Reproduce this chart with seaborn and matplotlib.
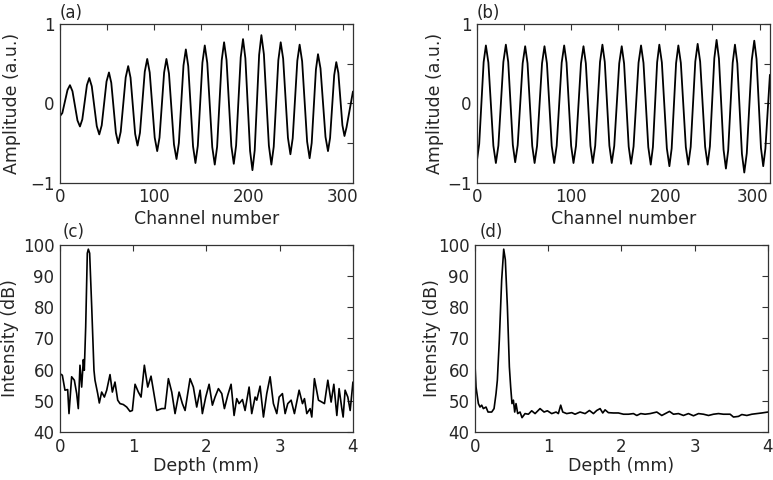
import matplotlib
matplotlib.use("Agg")
import matplotlib.pyplot as plt
import matplotlib.transforms as mtransforms
import seaborn as sns

# (a) raw channel signal: extrema and shoulders
channel_a = [0, 2.5, 8.0,
             10.6, 13.25, 18.55, 21.2, 23.7, 28.6, 31.1, 33.75, 39.05,
             41.7, 44.3, 49.4, 52.0, 54.45, 59.35, 61.8, 64.45, 69.75,
             72.4, 74.9, 79.8, 82.3, 84.9, 90.0, 92.6, 95.25, 100.55,
             103.2, 105.65, 110.55, 113.0, 115.7, 121.0, 123.7, 126.2, 131.1,
             133.6, 136.15, 141.25, 143.8, 146.3, 151.2, 153.7, 156.35, 161.65,
             164.3, 166.8, 171.7, 174.2, 176.8, 181.9, 184.5, 186.95, 191.85,
             194.3, 196.8, 201.8, 204.3, 206.7, 211.4, 213.8, 216.45, 221.75,
             224.4, 226.9, 231.8, 234.3, 236.9, 242.0, 244.6, 247.05, 251.95,
             254.4, 257.05, 262.35, 265.0, 267.2, 271.7, 273.9, 276.55, 281.85,
             284.5, 286.7, 291.1, 293.3, 295.5, 299.8, 302.0, 304.2, 311]
amp_a = [-0.16, -0.12, 0.17,
         0.23, 0.154, -0.214, -0.29, -0.201, 0.231, 0.32, 0.216, -0.286,
         -0.39, -0.276, 0.276, 0.39, 0.26, -0.37, -0.50, -0.358, 0.328,
         0.47, 0.324, -0.384, -0.53, -0.37, 0.40, 0.56, 0.39, -0.43,
         -0.60, -0.43, 0.39, 0.56, 0.376, -0.516, -0.70, -0.498, 0.478,
         0.68, 0.471, -0.541, -0.75, -0.533, 0.513, 0.73, 0.51, -0.55,
         -0.77, -0.545, 0.545, 0.77, 0.546, -0.536, -0.76, -0.53, 0.58,
         0.81, 0.568, -0.598, -0.84, -0.591, 0.611, 0.86, 0.621, -0.531,
         -0.77, -0.545, 0.545, 0.77, 0.564, -0.434, -0.64, -0.438, 0.538,
         0.74, 0.531, -0.481, -0.69, -0.498, 0.428, 0.62, 0.441, -0.421,
         -0.60, -0.436, 0.356, 0.52, 0.384, -0.274, -0.41, -0.30, 0.15]

# (b) corrected channel signal
channel_b = [0, 2.4, 7.1,
             9.5, 12.15, 17.45, 20.1, 22.75, 28.05, 30.7, 33.2, 38.1,
             40.6, 43.25, 48.55, 51.2, 53.7, 58.7, 61.2, 63.8, 69.1,
             71.7, 74.3, 79.4, 82.0, 84.65, 89.95, 92.6, 95.1, 100.0,
             102.5, 105.15, 110.45, 113.1, 115.6, 120.5, 123.0, 125.55, 130.65,
             133.2, 135.7, 140.6, 143.1, 145.75, 151.05, 153.7, 156.2, 161.1,
             163.6, 166.25, 171.55, 174.2, 176.8, 181.9, 184.5, 186.8, 191.3,
             193.6, 196.3, 201.6, 204.3, 206.7, 211.4, 213.8, 216.45, 221.75,
             224.4, 226.9, 231.8, 234.3, 236.95, 242.25, 244.9, 247.3, 252.0,
             254.4, 256.9, 261.8, 264.3, 266.7, 271.5, 273.9, 276.4, 281.3,
             283.8, 286.45, 291.75, 294.4, 296.8, 301.5, 303.9, 306.2, 311]
amp_b = [-0.72, -0.51, 0.52,
         0.73, 0.513, -0.533, -0.75, -0.532, 0.522, 0.74, 0.523, -0.523,
         -0.74, -0.526, 0.506, 0.72, 0.505, -0.535, -0.75, -0.535, 0.505,
         0.72, 0.505, -0.535, -0.75, -0.533, 0.513, 0.73, 0.513, -0.533,
         -0.75, -0.535, 0.505, 0.72, 0.505, -0.535, -0.75, -0.532, 0.522,
         0.74, 0.522, -0.532, -0.75, -0.535, 0.505, 0.72, 0.503, -0.543,
         -0.76, -0.542, 0.512, 0.73, 0.51, -0.55, -0.77, -0.549, 0.519,
         0.74, 0.516, -0.566, -0.79, -0.567, 0.507, 0.73, 0.51, -0.55,
         -0.77, -0.547, 0.527, 0.75, 0.527, -0.547, -0.77, -0.54, 0.57,
         0.80, 0.563, -0.583, -0.82, -0.592, 0.512, 0.74, 0.504, -0.634,
         -0.87, -0.627, 0.547, 0.79, 0.559, -0.559, -0.79, -0.57, 0.36]

# (c) depth profile before correction
depth_c = [0.000, 0.032, 0.068, 0.105, 0.123, 0.159, 0.196, 0.228, 0.250, 0.273,
           0.296, 0.319, 0.332, 0.351, 0.373, 0.387, 0.405, 0.433, 0.464, 0.478,
           0.515, 0.537, 0.569, 0.606, 0.638, 0.683, 0.715, 0.751, 0.788, 0.820,
           0.865, 0.911, 0.956, 0.988, 1.025, 1.070, 1.107, 1.152, 1.198, 1.243,
           1.275, 1.321, 1.389, 1.434, 1.480, 1.526, 1.571, 1.626, 1.671, 1.708,
           1.776, 1.821, 1.867, 1.913, 1.944, 1.990, 2.036, 2.081, 2.117, 2.163,
           2.209, 2.245, 2.291, 2.336, 2.377, 2.413, 2.445, 2.491, 2.527, 2.582,
           2.618, 2.664, 2.687, 2.732, 2.778, 2.823, 2.869, 2.914, 2.960, 2.992,
           3.037, 3.074, 3.110, 3.156, 3.201, 3.265, 3.311, 3.338, 3.370, 3.415,
           3.438, 3.474, 3.529, 3.575, 3.611, 3.657, 3.702, 3.739, 3.780, 3.811,
           3.848, 3.866, 3.893, 3.930, 3.962, 4.000]
db_c = [58.7, 58.2, 53.4, 53.6, 45.9, 57.7, 56.6, 52.3, 47.5, 61.4,
        54.4, 63.2, 59.8, 73.7, 97.3, 98.6, 97.3, 80.2, 59.8, 56.6,
        52.3, 49.3, 52.8, 51.2, 53.4, 58.4, 52.8, 56.0, 50.2, 49.1,
        48.8, 48.0, 46.6, 46.9, 55.3, 52.8, 51.2, 61.4, 54.4, 57.9,
        53.4, 46.9, 47.5, 47.5, 57.1, 52.8, 45.9, 52.8, 49.1, 46.9,
        57.1, 54.4, 48.0, 53.4, 45.9, 51.2, 55.3, 48.6, 51.2, 53.9,
        52.3, 47.5, 51.8, 55.3, 45.3, 50.7, 49.1, 50.4, 46.9, 54.4,
        45.9, 51.2, 50.2, 54.7, 44.8, 52.3, 57.7, 49.1, 45.9, 51.2,
        52.3, 45.9, 49.1, 50.2, 45.9, 53.4, 49.1, 50.7, 45.9, 47.5,
        44.8, 57.1, 50.2, 49.6, 49.1, 56.6, 49.6, 55.3, 45.3, 53.9,
        47.5, 44.8, 53.4, 51.2, 46.9, 56.0]

# (d) depth profile after correction
depth_d = [0.000, 0.014, 0.046, 0.068, 0.091, 0.114, 0.150, 0.178, 0.228, 0.260,
           0.287, 0.305, 0.332, 0.364, 0.392, 0.414, 0.442, 0.469, 0.487, 0.505,
           0.524, 0.542, 0.560, 0.583, 0.615, 0.642, 0.683, 0.729, 0.774, 0.820,
           0.888, 0.943, 0.988, 1.047, 1.107, 1.138, 1.170, 1.198, 1.252, 1.321,
           1.366, 1.434, 1.503, 1.562, 1.617, 1.662, 1.708, 1.744, 1.776, 1.821,
           1.890, 1.958, 2.027, 2.095, 2.163, 2.209, 2.263, 2.322, 2.391, 2.482,
           2.550, 2.655, 2.710, 2.778, 2.846, 2.914, 2.983, 3.051, 3.119, 3.188,
           3.256, 3.324, 3.392, 3.483, 3.529, 3.597, 3.643, 3.711, 3.780, 3.848,
           3.916, 4.000]
db_d = [61.4, 54.4, 49.1, 48.0, 48.6, 47.5, 48.0, 46.4, 46.4, 47.5,
        52.3, 56.6, 69.5, 88.7, 98.6, 95.2, 80.2, 60.9, 54.4, 49.1,
        50.2, 46.4, 49.1, 45.9, 46.4, 44.6, 45.9, 45.7, 46.8, 45.9,
        47.5, 46.4, 46.8, 45.9, 46.4, 45.9, 48.6, 46.4, 45.9, 46.2,
        45.7, 46.4, 45.9, 46.9, 45.9, 46.9, 47.5, 46.1, 47.1, 46.2,
        46.1, 46.1, 45.7, 45.7, 45.9, 45.3, 45.9, 45.7, 45.9, 46.4,
        45.3, 46.6, 45.7, 45.9, 45.3, 45.9, 45.2, 45.9, 45.7, 45.3,
        45.7, 45.9, 45.7, 45.7, 44.8, 45.0, 45.6, 45.3, 45.7, 45.9,
        46.1, 46.4]

sns.set_theme(style="white")
plt.rcParams["font.family"] = ["DejaVu Sans"]

fig = plt.figure(figsize=(7.73, 4.8), dpi=100)

ax_a = fig.add_axes([0.0776, 0.619, 0.379, 0.331])
ax_b = fig.add_axes([0.617, 0.619, 0.379, 0.331])
ax_c = fig.add_axes([0.0776, 0.100, 0.379, 0.390])
ax_d = fig.add_axes([0.6145, 0.100, 0.379, 0.390])


def style(ax):
    ax.tick_params(which="both", direction="in", top=True, right=True,
                   length=4, width=0.8, color="#333333", labelsize=12, pad=4)
    for s in ax.spines.values():
        s.set_color("#333333")
        s.set_linewidth(0.9)


for ax, x, y, letter, ylx in [
    (ax_a, channel_a, amp_a, "(a)", -0.133),
    (ax_b, channel_b, amp_b, "(b)", -0.113),
]:
    sns.lineplot(x=x, y=y, ax=ax, color="black", linewidth=1.3, estimator=None)
    ax.set_xlim(0, 311)
    ax.set_ylim(-1, 1)
    ax.set_xticks([0, 100, 200, 300])
    ax.set_xticks([50, 150, 250], minor=True)
    ax.set_yticks([-1, 0, 1])
    ax.set_yticks([-0.5, 0.5], minor=True)
    ax.set_xlabel("Channel number", fontsize=12.5)
    ax.set_ylabel("Amplitude (a.u.)", fontsize=12.5)
    ax.xaxis.set_label_coords(0.5, -0.17)
    ax.yaxis.set_label_coords(ylx, 0.5)
    ax.text(0.0, 1.015, letter, transform=ax.transAxes, fontsize=12,
            ha="left", va="bottom")
    style(ax)

for ax, x, y, letter, lx, ylx in [
    (ax_c, depth_c, db_c, "(c)", 0.01, -0.14),
    (ax_d, depth_d, db_d, "(d)", 0.015, -0.116),
]:
    sns.lineplot(x=x, y=y, ax=ax, color="black", linewidth=1.2, estimator=None)
    ax.set_xlim(0, 4)
    ax.set_ylim(40, 100)
    ax.set_xticks([0, 1, 2, 3, 4])
    ax.set_yticks([40, 50, 60, 70, 80, 90, 100])
    ax.set_xlabel("Depth (mm)", fontsize=12.5)
    ax.set_ylabel("Intensity (dB)", fontsize=12.5)
    ax.xaxis.set_label_coords(0.5, -0.135)
    ax.yaxis.set_label_coords(ylx, 0.5)
    ax.text(lx, 1.02, letter, transform=ax.transAxes, fontsize=12,
            ha="left", va="bottom")
    style(ax)

# keep the last tick label of (b) inside the canvas
shift = mtransforms.ScaledTranslation(-5 / 72, 0, fig.dpi_scale_trans)
for lab in ax_b.get_xticklabels():
    if lab.get_text() == "300":
        lab.set_transform(lab.get_transform() + shift)

fig.savefig("out.png", dpi=100)
